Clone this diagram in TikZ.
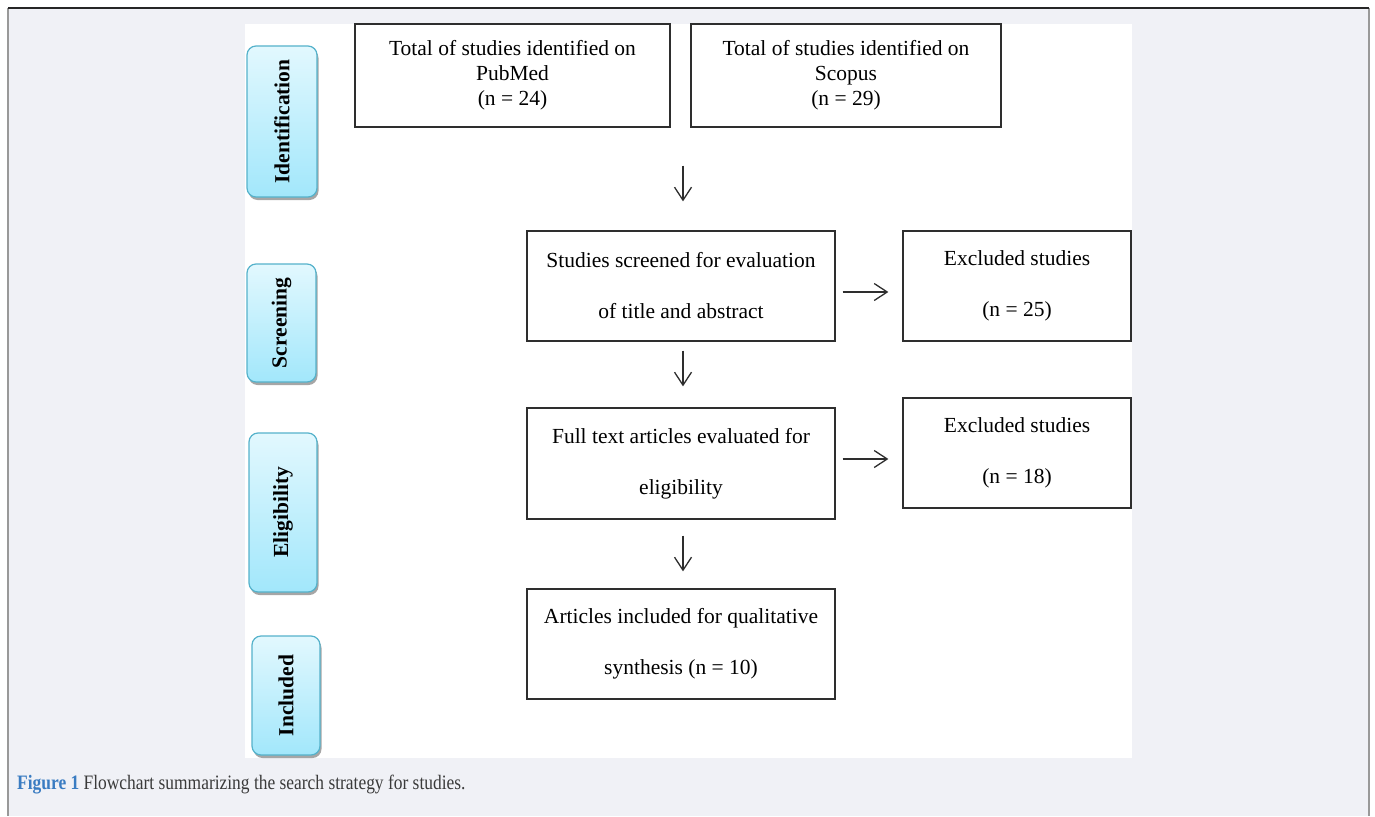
\documentclass[tikz,border=0pt]{standalone}
\usepackage{fontspec}
\setmainfont{Liberation Serif}
\newfontfamily\capfont[FakeStretch=0.85]{Liberation Serif}
\usetikzlibrary{arrows.meta,shadows}
\definecolor{pagebg}{HTML}{F0F1F6}
\definecolor{sidetop}{HTML}{E2F8FE}
\definecolor{sidebot}{HTML}{A2E7FB}
\definecolor{sideborder}{HTML}{55B2CB}
\definecolor{boxline}{HTML}{2E2E2E}
\definecolor{capblue}{HTML}{3A7CC2}
\definecolor{capgray}{HTML}{3A3A3A}
\begin{document}
\begin{tikzpicture}[x=1pt,y=-1pt,
  flowbox/.style={draw=boxline,line width=1.3pt,fill=white,align=center,inner sep=0pt,
    font=\fontsize{21.5}{25}\selectfont},
  wide/.style={font=\fontsize{21.5}{51}\selectfont},
  sidebox/.style={draw=sideborder,line width=1.2pt,rounded corners=9pt,top color=sidetop,bottom color=sidebot,
    drop shadow={shadow xshift=1.5pt,shadow yshift=-3pt,fill=black,opacity=0.35},inner sep=0pt},
  sidetext/.style={rotate=90,font=\bfseries\fontsize{21.5}{24}\selectfont},
  arr/.style={-{Straight Barb[length=13pt,width=17pt]},line width=1.3pt,draw=boxline}]
\useasboundingbox (0,0) rectangle (1375,816);
\fill[white] (0,0) rectangle (1375,816);
\fill[pagebg] (8,8) rectangle (1369,816);
\draw[gray!80,line width=1.2pt] (8,8) -- (8,816);
\draw[gray!80,line width=1.2pt] (1369,8) -- (1369,816);
\draw[black!85,line width=1.5pt] (8,8) -- (1369,8);
\fill[white] (245,24) rectangle (1132,758);

% side labels
\node[sidebox,minimum width=70pt,minimum height=151pt] (sid) at (282,121.5) {};
\node[sidetext] (sidt) at (sid.center) {Identification};
\node[sidebox,minimum width=69pt,minimum height=118pt] (scr) at (281.5,323) {};
\node[sidetext] (scrt) at (scr.center) {Screening};
\node[sidebox,minimum width=68pt,minimum height=159pt] (eli) at (283,512.5) {};
\node[sidetext] (elit) at (eli.center) {Eligibility};
\node[sidebox,minimum width=68pt,minimum height=119pt] (inc) at (286,695.5) {};
\node[sidetext] (inct) at (inc.center) {Included};

% flow boxes
\node[flowbox,minimum width=315pt,minimum height=103pt] (pub) at (512.5,75.5)
  {Total of studies identified on\\PubMed\\(n = 24)};
\node[flowbox,minimum width=310pt,minimum height=103pt] (sco) at (846,75.5)
  {Total of studies identified on\\Scopus\\(n = 29)};
\node[flowbox,wide,minimum width=308pt,minimum height=110pt] (scn) at (681,286)
  {Studies screened for evaluation\\of title and abstract};
\node[flowbox,wide,minimum width=228pt,minimum height=110pt] (ex1) at (1017,286)
  {Excluded studies\\(n = 25)};
\node[flowbox,wide,minimum width=308pt,minimum height=111pt] (ful) at (681,463.5)
  {Full text articles evaluated for\\eligibility};
\node[flowbox,wide,minimum width=228pt,minimum height=110pt] (ex2) at (1017,453)
  {Excluded studies\\(n = 18)};
\node[flowbox,wide,minimum width=308pt,minimum height=110pt] (inl) at (681,644)
  {Articles included for qualitative\\synthesis (n = 10)};

% arrows
\draw[arr,shorten <=38pt,shorten >=29pt] ([xshift=2pt]scn.north |- pub.south) -- ([xshift=2pt]scn.north);
\draw[arr,shorten <=9pt,shorten >=21pt] ([xshift=2pt]scn.south) -- ([xshift=2pt]ful.north);
\draw[arr,shorten <=16pt,shorten >=17pt] ([xshift=2pt]ful.south) -- ([xshift=2pt]inl.north);
\draw[arr,shorten <=7pt,shorten >=14pt] ([yshift=-6pt]scn.east) -- ([yshift=-6pt]scn.east -| ex1.west);
\draw[arr,shorten <=7pt,shorten >=14pt] ([yshift=4.5pt]ful.east) -- ([yshift=4.5pt]ful.east -| ex2.west);

% caption
\node[anchor=base west,inner sep=0pt,font=\capfont\fontsize{20.5}{24}\selectfont,text=capgray] (cap) at (17,789)
  {\textcolor{capblue}{\bfseries Figure 1} Flowchart summarizing the search strategy for studies.};
\end{tikzpicture}
\end{document}
